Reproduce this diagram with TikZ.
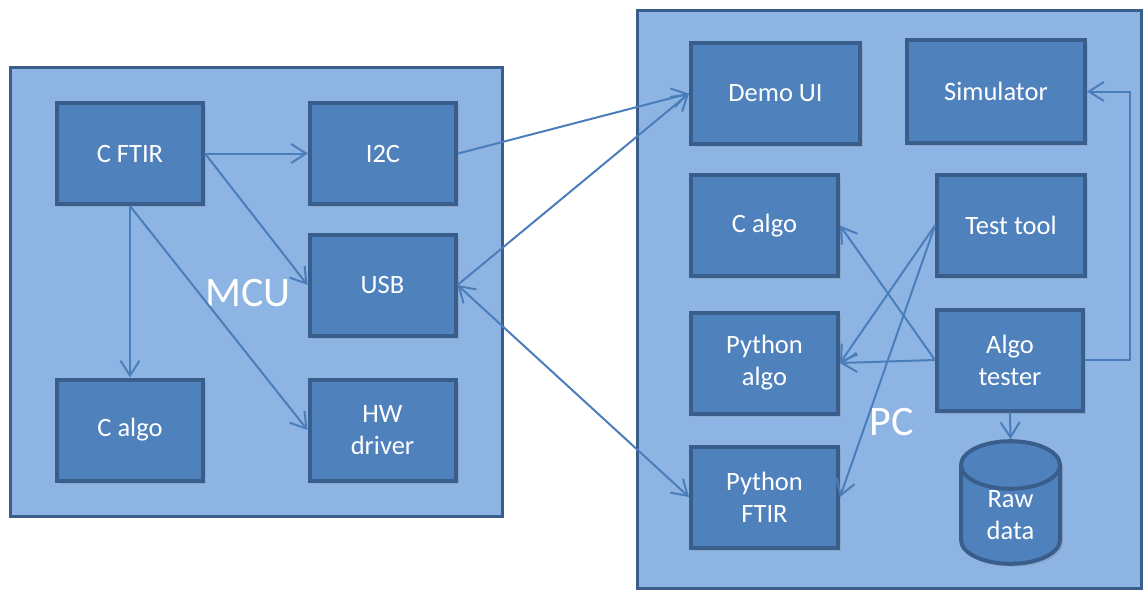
\documentclass[tikz,border=0pt]{standalone}
\usepackage{fontspec}
\setmainfont{Carlito}
\usetikzlibrary{arrows.meta,shapes.geometric,shadows}
\definecolor{blockfill}{HTML}{4F81BD}
\definecolor{blockedge}{HTML}{3A5E8C}
\definecolor{areafill}{HTML}{8EB4E3}
\definecolor{linkblue}{HTML}{4A7EBB}

\begin{document}
\begin{tikzpicture}[x=1pt,y=-1pt,
		area/.style={draw=blockedge,line width=3pt,fill=areafill,inner sep=0pt},
		areatext/.style={text=white,font=\fontsize{42}{50}\selectfont},
		block/.style={draw=blockedge,line width=4pt,fill=blockfill,text=white,align=center,inner sep=0pt,
			minimum width=146pt,minimum height=101pt,font=\fontsize{26.5}{32}\selectfont,
			drop shadow={shadow xshift=3pt,shadow yshift=-3pt,opacity=.25}},
		link/.style={draw=linkblue,line width=2pt,>={Straight Barb[length=15pt,width=19pt]},->}]
		\useasboundingbox (0,0) rectangle (1146,592);
		% the two areas
		\node[area,minimum width=492pt,minimum height=449pt] (mcu) at (256.5,292) {};
		\node[area,minimum width=504pt,minimum height=578pt] (pc) at (889.5,299.5) {};
		\node[areatext] (mcutext) at (248,293) {MCU};
		\node[areatext] (pctext) at (892,422) {PC};
		% MCU side
		\node[block] (cftir) at (130,153.5) {C FTIR};
		\node[block] (i2c) at (383,153.5) {I2C};
		\node[block] (usb) at (382.5,285) {USB};
		\node[block] (calgomcu) at (130,430) {C algo};
		\node[block] (hwdriver) at (382.5,430) {HW\\driver};
		% PC side
		\node[block,minimum width=169pt] (demoui) at (775.5,93.5) {Demo UI};
		\node[block,minimum width=178pt,minimum height=103pt] (simulator) at (996,91.5) {Simulator};
		\node[block,minimum width=147pt] (calgopc) at (764.5,225.5) {C algo};
		\node[block,minimum width=148pt] (testtool) at (1011,225.5) {Test tool};
		\node[block,minimum width=147pt] (pyalgo) at (764.5,363) {Python\\algo};
		\node[block] (algotester) at (1010,360) {Algo\\tester};
		\node[block,minimum width=147pt] (pyftir) at (764.5,497) {Python\\FTIR};
		\node[block,cylinder,shape border rotate=90,aspect=1,minimum width=99pt,minimum height=113pt,
			anchor=shape center] (rawdata) at (1010.5,502.5) {Raw\\data};
		\path[every edge/.style={link}]
		(cftir.east) edge (i2c.west) edge (usb.west)
		(cftir.south) edge (calgomcu.north) edge (hwdriver.west)
		(i2c.east) edge (demoui.west)
		(usb.east) edge (demoui.west) edge[<->] (pyftir.west)
		(testtool.west) edge (pyalgo.east) edge (pyftir.east)
		(algotester.west) edge (pyalgo.east) edge (calgopc.east)
		(algotester.south) edge (rawdata.top);
		\draw[link] (algotester.east) -- ++(45,0) |- (simulator.east);
	\end{tikzpicture}
\end{document}
